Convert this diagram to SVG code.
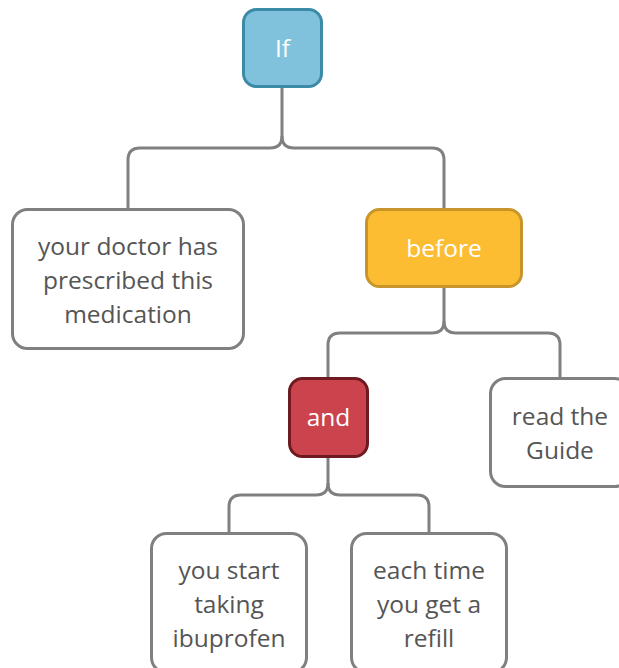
<svg xmlns="http://www.w3.org/2000/svg" width="619" height="668" viewBox="0 0 619 668">
  <style>
    .link { fill: none; stroke: #808080; stroke-width: 3; }
    .box { stroke-width: 3; }
    .plain { fill: #ffffff; stroke: #808080; }
    .lbl { font-family: "Open Sans", "Noto Sans", sans-serif; font-size: 24.5px; text-anchor: middle; fill: #555555; }
    .lbl.light { fill: #ffffff; }
  </style>
  <rect width="619" height="668" fill="#ffffff"/>

  <g id="connectors">
    <!-- If → two branches -->
    <path class="link" d="M282,87 V136 Q282,148 270,148 H140 Q128,148 128,160 V210"/>
    <path class="link" d="M282,136 Q282,148 294,148 H432 Q444,148 444,160 V210"/>
    <!-- before → two branches -->
    <path class="link" d="M444,287 V321 Q444,333 432,333 H340 Q328,333 328,345 V378"/>
    <path class="link" d="M444,321 Q444,333 456,333 H548 Q560,333 560,345 V378"/>
    <!-- and → two branches -->
    <path class="link" d="M328,457 V483 Q328,495 316,495 H241 Q229,495 229,507 V533"/>
    <path class="link" d="M328,483 Q328,495 340,495 H417 Q429,495 429,507 V533"/>
  </g>

  <g id="node-if">
    <rect class="box" x="243.5" y="9.5" width="78" height="77" rx="13" fill="#80c2dc" stroke="#3a8aa8"/>
    <text class="lbl light" x="282.5" y="57">If</text>
  </g>

  <g id="node-doctor">
    <rect class="box plain" x="12.5" y="209.5" width="231" height="139" rx="15"/>
    <text class="lbl" x="128" y="255">your doctor has</text>
    <text class="lbl" x="128" y="289">prescribed this</text>
    <text class="lbl" x="128" y="323">medication</text>
  </g>

  <g id="node-before">
    <rect class="box" x="366.5" y="209.5" width="155" height="77" rx="13" fill="#fdbd33" stroke="#c8952a"/>
    <text class="lbl light" x="444" y="257">before</text>
  </g>

  <g id="node-and">
    <rect class="box" x="289.5" y="378.5" width="78" height="78" rx="13" fill="#cb444d" stroke="#6e1a20"/>
    <text class="lbl light" x="328.5" y="426">and</text>
  </g>

  <g id="node-guide">
    <rect class="box plain" x="490.5" y="378.5" width="139" height="108" rx="15"/>
    <text class="lbl" x="560" y="425">read the</text>
    <text class="lbl" x="560" y="459">Guide</text>
  </g>

  <g id="node-start">
    <rect class="box plain" x="151.5" y="533.5" width="155" height="139" rx="15"/>
    <text class="lbl" x="229" y="579">you start</text>
    <text class="lbl" x="229" y="613">taking</text>
    <text class="lbl" x="229" y="647">ibuprofen</text>
  </g>

  <g id="node-refill">
    <rect class="box plain" x="351.5" y="533.5" width="155" height="139" rx="15"/>
    <text class="lbl" x="429" y="579">each time</text>
    <text class="lbl" x="429" y="613">you get a</text>
    <text class="lbl" x="429" y="647">refill</text>
  </g>
</svg>
